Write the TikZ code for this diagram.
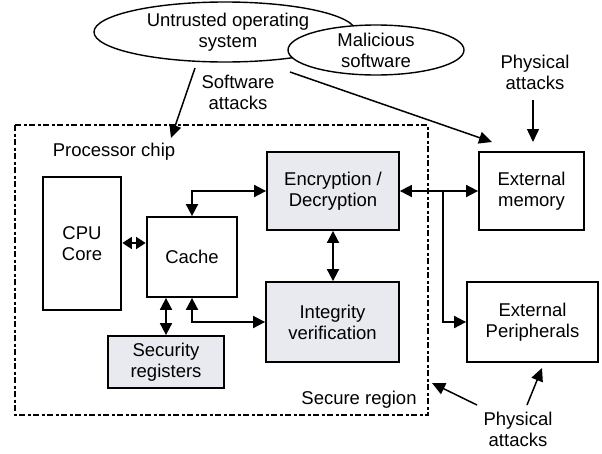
\documentclass[tikz,border=0pt]{standalone}
\usepackage{fontspec}
\setmainfont{Liberation Sans}
\usetikzlibrary{arrows.meta,shapes.geometric}
\definecolor{boxfill}{RGB}{233,233,240}
\tikzset{
  lbl/.style={font=\fontsize{18.5}{21}\selectfont, align=center, inner sep=0pt},
  blk/.style={draw, line width=1.8pt, lbl},
  gblk/.style={blk, fill=boxfill},
  arr/.style={-{Triangle[length=12pt,width=12pt]}, line width=1.8pt},
  darr/.style={{Triangle[length=12pt,width=12pt]}-{Triangle[length=12pt,width=12pt]}, line width=1.8pt},
  sdarr/.style={{Triangle[length=9.5pt,width=12pt]}-{Triangle[length=9.5pt,width=12pt]}, line width=1.8pt, shorten <=0.5pt, shorten >=0.5pt},
  tarr/.style={-{Triangle[length=13pt,width=12pt]}, line width=1.5pt},
  cloud/.style={draw, ellipse, line width=1.4pt, fill=white, inner sep=0pt, lbl},
  region/.style={draw, line width=2pt, dash pattern=on 6pt off 2.5pt on 3pt off 2.5pt}
}
\begin{document}
\begin{tikzpicture}[x=1pt,y=-1pt]
\path[use as bounding box] (0,0) rectangle (602,453);
% secure region
\draw[region] (15,125) rectangle (428,415);
\node[lbl] (proc) at (114,152) {Processor chip};
\node[lbl] (secreg) at (359,400) {Secure region};
% blocks
\node[blk, minimum width=78pt, minimum height=133pt] (cpu) at (82,243.5) {CPU\\Core};
\node[blk, minimum width=90pt, minimum height=80pt] (cache) at (192,257) {Cache};
\node[gblk, minimum width=132pt, minimum height=78pt] (enc) at (333,191) {Encryption /\\Decryption};
\node[gblk, minimum width=133pt, minimum height=80pt] (integ) at (332.5,322) {Integrity\\verification};
\node[gblk, minimum width=116pt, minimum height=52pt] (sec) at (166,362) {Security\\registers};
\node[blk, minimum width=105pt, minimum height=78pt] (mem) at (531.5,191) {External\\memory};
\node[blk, minimum width=131pt, minimum height=80pt] (per) at (532.5,322) {External\\Peripherals};
% connectors
\draw[sdarr] (cpu.east |- 0,243) -- (cache.west |- 0,243);
\draw[darr] (cache.north) |- (enc.west);
\draw[darr] (sec.north) -- (sec.north |- cache.south);
\draw[darr] (cache.south) |- (integ.west);
\draw[darr] (enc.south) -- (enc.south |- integ.north);
\draw[darr] (enc.east) -- (mem.west);
\coordinate (br) at (443,191);
\draw[arr] (br) |- (per.west);
% clouds
\node[cloud, minimum width=262pt, minimum height=60pt] (os) at (225,32) {};
\node[lbl] (ostext) at (228,32.5) {Untrusted operating\\system};
\node[cloud, minimum width=176pt, minimum height=50pt] (mal) at (376,50) {Malicious\\software};
% attack labels and arrows
\node[lbl] (swatt) at (238,92) {Software\\attacks};
\coordinate (sw0) at (195,68);
\coordinate (sw1) at (171,138);
\draw[tarr] (sw0) -- (sw1);
\coordinate (ma0) at (290,72);
\coordinate (ma1) at (492,142);
\draw[tarr] (ma0) -- (ma1);
\node[lbl] (phys1) at (535,72) {Physical\\attacks};
\coordinate (p10) at (533,100);
\coordinate (p11) at (533,142);
\draw[tarr] (p10) -- (p11);
\node[lbl] (phys2) at (518,429) {Physical\\attacks};
\coordinate (p20) at (477,405);
\coordinate (p21) at (432,383);
\draw[tarr] (p20) -- (p21);
\coordinate (p30) at (527,405);
\coordinate (p31) at (542,368);
\draw[tarr] (p30) -- (p31);
\end{tikzpicture}
\end{document}
